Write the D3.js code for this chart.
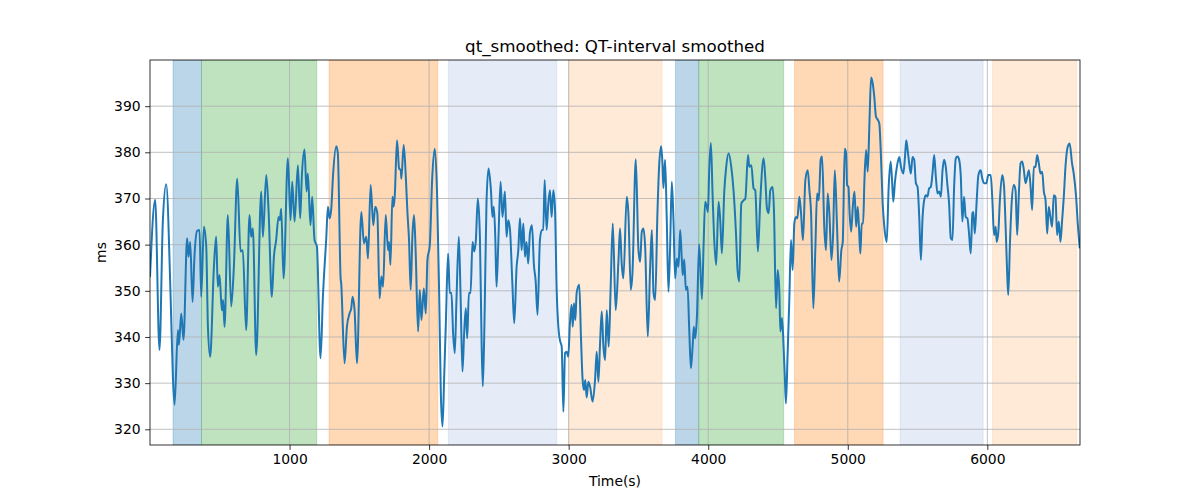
<!DOCTYPE html>
<html><head><meta charset="utf-8">
<script src="https://cdn.jsdelivr.net/npm/d3@7"></script>
<style>body{margin:0;background:#fff}svg{display:block}text{font-family:"DejaVu Sans",sans-serif}</style>
</head><body><svg id="c" width="1200" height="500"></svg>
<script>
const times = [0,37,68,92,116,147,164,176,200,207,224,240,266,276,288,305,319,338,355,367,386,403,415,431,458,474,486,498,515,524,534,558,582,601,625,649,665,689,713,725,737,761,797,809,833,850,873,888,904,921,931,940,957,988,1007,1019,1036,1060,1076,1088,1107,1122,1131,1150,1162,1179,1196,1222,1239,1263,1275,1287,1299,1311,1335,1346,1366,1370,1394,1411,1430,1442,1452,1466,1483,1514,1533,1550,1562,1581,1600,1614,1629,1645,1658,1670,1689,1706,1713,1723,1737,1746,1754,1770,1785,1797,1801,1818,1833,1845,1856,1868,1880,1892,1904,1921,1933,1945,1962,1976,1988,2005,2022,2041,2057,2072,2084,2096,2108,2120,2136,2148,2160,2172,2184,2196,2213,2225,2239,2251,2263,2273,2285,2297,2311,2323,2335,2349,2364,2376,2385,2397,2411,2426,2443,2454,2464,2474,2483,2495,2512,2526,2543,2555,2567,2579,2596,2610,2627,2639,2651,2663,2675,2687,2698,2710,2722,2737,2751,2763,2777,2794,2808,2818,2828,2842,2854,2866,2878,2890,2902,2914,2926,2933,2940,2950,2962,2974,2986,2997,3009,3021,3029,3038,3048,3057,3076,3088,3100,3110,3119,3129,3141,3153,3172,3189,3201,3213,3225,3237,3249,3261,3273,3287,3301,3316,3337,3357,3368,3380,3392,3416,3428,3445,3457,3481,3500,3512,3524,3536,3548,3567,3584,3596,3608,3620,3636,3648,3663,3672,3679,3691,3703,3715,3727,3739,3751,3763,3775,3787,3799,3811,3818,3828,3840,3852,3864,3876,3888,3897,3907,3919,3935,3955,3967,3978,3990,3998,4007,4019,4031,4041,4057,4074,4086,4098,4115,4129,4146,4165,4182,4199,4210,4222,4237,4254,4266,4285,4294,4309,4325,4337,4356,4373,4397,4409,4421,4433,4445,4462,4471,4486,4498,4510,4517,4529,4541,4548,4557,4569,4581,4593,4605,4617,4629,4639,4653,4665,4679,4696,4713,4725,4737,4753,4768,4780,4792,4806,4816,4832,4844,4856,4868,4883,4895,4907,4923,4938,4954,4964,4978,4988,4995,5005,5012,5024,5036,5048,5060,5071,5081,5090,5100,5110,5119,5131,5143,5155,5167,5179,5190,5202,5214,5226,5238,5250,5262,5279,5293,5307,5317,5326,5338,5352,5369,5381,5398,5410,5419,5429,5440,5452,5464,5476,5488,5500,5512,5524,5536,5548,5560,5571,5583,5595,5607,5619,5631,5643,5655,5667,5679,5690,5702,5714,5726,5738,5750,5762,5774,5786,5798,5810,5821,5833,5845,5857,5869,5881,5893,5900,5910,5924,5936,5952,5964,5976,5993,6007,6024,6036,6048,6060,6067,6079,6090,6107,6119,6131,6143,6150,6162,6174,6190,6202,6214,6226,6238,6250,6262,6274,6286,6298,6310,6321,6333,6345,6357,6369,6381,6393,6405,6417,6429,6440,6452,6464,6476,6488,6500,6512,6524,6536,6548,6560,6576,6590,6607,6619,6636,6648,6662];
const qtValues = [353,369.7,337.2,365,373.1,349.5,331.4,325.3,341.5,338.3,345.1,339.4,361.4,357.4,360.6,347.6,357.7,363,363.2,348.7,363.9,359.6,342.2,335.7,355.2,361.7,350.9,353.4,345.8,348,342.2,366.4,346.6,355.2,374.3,358.5,358.8,341.5,366.4,361.7,363.5,336.1,371.5,361.7,375.1,367.1,348.7,357.4,361,366,365.3,367.8,352.7,378.7,365.3,373.6,365,377.2,365.7,374.7,380.6,371.5,375.4,364.2,370.4,361,359.6,335.4,348.7,361.4,368.2,365.7,367.8,374.7,381.3,379.8,352.7,351.6,334.3,342.2,345.1,346.2,348.7,345.8,334.3,367.1,360.3,361.7,357,372.9,364.2,368.2,366.8,348.4,353.1,350.9,366.4,358.8,360.6,355.6,370.4,368.2,370.7,382.6,376.5,376.1,374.3,381.6,374.7,366.8,361,350.2,361.7,366.4,358.1,341.2,350.2,343.7,350.5,345.1,356.7,359.9,374.3,380.8,371.1,349.5,327.8,320.6,331.4,343,358.1,349.5,349.5,340.8,336.5,348,361.7,349.5,332.5,340.8,346.2,339.7,349.5,349.5,360.6,358.5,361,370,361.7,339,329.3,343.7,368.9,376.5,371.8,366,368.2,361.7,350.9,359.6,373.6,366,371.5,361.7,365.3,363.5,352,343,355.2,358.8,365.7,358.8,364.6,357.4,360.6,355.9,362.4,364.2,355.6,352.3,344.8,361,363.2,363.2,374,363.2,368.9,371.8,366,371.8,367.8,350.2,342.2,340.1,339,337.9,323.8,336.5,336.8,335.7,343,347,342.2,347.3,343.7,349.5,351.3,340.1,330.7,328.5,330.7,326.9,330.3,329.3,326,330.7,336.8,330.3,338.6,345.5,337.9,335,345.8,337.9,350.9,364.6,345.8,356.7,363.5,355.9,352.7,370.4,366.8,350.2,353.8,378.5,358.8,356.3,362.8,363.5,359.6,340.1,355.2,363.2,349.5,348,366.8,376.9,381.3,377.6,372.2,378.4,365.3,349.8,359.6,373.6,365.3,352.7,357,355.2,363.2,356.7,353.4,356.8,350.2,350.9,341.5,333.2,337.9,342.2,339.7,344.4,360.1,348.2,360.1,369.3,368.2,367.1,376.1,382,371.1,362.4,355.6,369.3,365.3,358.1,371.5,376.9,379.8,376.9,371.5,362.4,354.5,352,368.9,369.6,370,379.4,376.9,377.2,372.2,371.8,358.5,369.6,378.7,374.3,367.8,366.8,371.8,372.5,367.5,346.2,354.5,349.5,341.2,344.1,337.2,332.1,325.6,336.5,348,361,354.5,364.6,366,365.7,370.4,366.8,361,374,376.1,371.8,366.8,346.2,359.6,371.1,369.6,378.4,379.1,363.5,358.8,371.1,366.8,356.7,362.4,376.1,363.9,352,358.8,360.6,380.8,379.8,372.9,372.5,367.5,362.8,368.2,371.5,363.9,368.2,363.2,358.1,364.6,364.6,373.6,380.5,375.8,386.2,396.2,394.9,392,387.7,387.1,386.2,379,368.9,363.9,360.6,372.5,378,374,369.3,373.6,376.9,379,376.9,375.4,379,382.6,380.5,377.6,375.4,379,378.4,373.3,372.5,366,356.7,366,369.7,370.7,370.4,372.2,372.5,375.4,379.4,374.7,371.1,371.5,370.4,376.1,378.4,376.9,372.9,368.9,361.4,361,372.5,378.7,379.1,378.4,374.7,365,370.4,366,365.7,362.4,358.1,366.8,367.1,362.4,369.7,375.1,376.1,374.3,373.3,373.3,375.1,375.1,369.7,362.1,363.9,360.6,362.8,369.7,375.1,372.9,363.9,353.1,349.1,360.3,368.9,372.9,371.8,362.1,371.1,377.6,378,376.1,373.3,374.7,376.1,372.5,367.5,376.9,376.8,379.4,377.6,375.4,375.8,371.5,369.7,362.4,368.2,366,363.9,370.7,370.4,362.1,365,360.6,365.3,370.4,376.9,381.2,381.9,377.6,375.4,370.4,364.6,359.2];
const bandStarts = [165,369,1283,2138,3000,3765,3932,4618,5375,6037];
const bandEnds   = [369,1195,2062,2915,3669,3932,4541,5253,5970,6641];
const bandPhases = [0,1,2,3,4,0,1,2,3,4];
const xTicks = [1000,2000,3000,4000,5000,6000];
const yTicks = [320,330,340,350,360,370,380,390];
const xDomain = [0,6664];
const yDomain = [316.6,400];

const svg = d3.select('#c');
const L=150, T=60, W=930, H=385;
const x = d3.scaleLinear().domain(xDomain).range([L, L+W]);
const y = d3.scaleLinear().domain(yDomain).range([T+H, T]);
const phaseColor = d3.scaleOrdinal().domain([0,1,2,3,4]).range(['#1f77b4','#2ca02c','#ff7f0e','#4f7fd0','#ff7f0e']);
const phaseOpacity = d3.scaleOrdinal().domain([0,1,2,3,4]).range([0.3,0.3,0.3,0.15,0.16]);

svg.append('clipPath').attr('id','pa').append('rect').attr('x',L).attr('y',T).attr('width',W).attr('height',H);

const g = svg.append('g').attr('clip-path','url(#pa)');
g.selectAll('rect.band').data(bandStarts.map((s,i)=>({s, e:bandEnds[i], p:bandPhases[i]})))
 .enter().append('rect').attr('class','band')
 .attr('x', d=>x(d.s)).attr('width', d=>x(d.e)-x(d.s))
 .attr('y', T).attr('height', H)
 .attr('fill', d=>phaseColor(d.p)).attr('fill-opacity', d=>phaseOpacity(d.p))
 .attr('stroke', d=>phaseColor(d.p)).attr('stroke-opacity', d=>phaseOpacity(d.p)*0.8).attr('stroke-width',1);

g.selectAll('line.gx').data(xTicks).enter().append('line')
 .attr('x1',d=>x(d)).attr('x2',d=>x(d)).attr('y1',T).attr('y2',T+H)
 .attr('stroke','#b0b0b0').attr('stroke-width',0.8);
g.selectAll('line.gy').data(yTicks).enter().append('line')
 .attr('y1',d=>y(d)).attr('y2',d=>y(d)).attr('x1',L).attr('x2',L+W)
 .attr('stroke','#b0b0b0').attr('stroke-width',0.8);

const pts = times.map((t,i)=>[t, qtValues[i]]);
g.append('path').datum(pts)
 .attr('d', d3.line().x(d=>x(d[0])).y(d=>y(d[1])).curve(d3.curveMonotoneX))
 .attr('fill','none').attr('stroke','#1f77b4').attr('stroke-width',2).attr('stroke-linejoin','round');

const xa = svg.append('g').attr('transform',`translate(0,${T+H})`)
 .call(d3.axisBottom(x).tickValues(xTicks).tickSize(4.9).tickPadding(4.5).tickFormat(d3.format('d')));
const ya = svg.append('g').attr('transform',`translate(${L},0)`)
 .call(d3.axisLeft(y).tickValues(yTicks).tickSize(4.9).tickPadding(4.5).tickFormat(d3.format('d')));
[xa,ya].forEach(a=>{
  a.select('.domain').remove();
  a.selectAll('line').attr('stroke','#000').attr('stroke-width',0.8);
  a.selectAll('text').attr('font-size','13.9px').attr('fill','#000').attr('font-family','DejaVu Sans');
});
svg.append('rect').attr('x',L).attr('y',T).attr('width',W).attr('height',H)
 .attr('fill','none').attr('stroke','#000').attr('stroke-width',0.8);

svg.append('text').attr('x',L+W/2).attr('y',T-8.5).attr('text-anchor','middle')
 .attr('font-size','16.7px').text('qt_smoothed: QT-interval smoothed');
svg.append('text').attr('x',L+W/2).attr('y',486).attr('text-anchor','middle')
 .attr('font-size','13.9px').text('Time(s)');
svg.append('text').attr('transform',`translate(106,${T+H/2}) rotate(-90)`).attr('text-anchor','middle')
 .attr('font-size','13.9px').text('ms');
</script></body></html>
